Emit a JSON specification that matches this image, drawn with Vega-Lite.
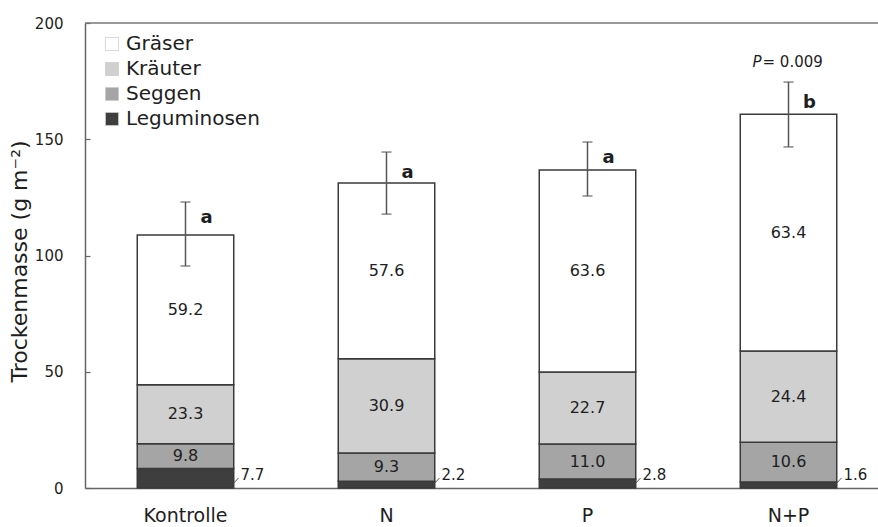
{
  "$schema": "https://vega.github.io/schema/vega-lite/v6.json",
  "width": 793,
  "height": 465,
  "autosize": {"type": "none"},
  "padding": {"left": 85, "top": 23, "right": 0, "bottom": 39},
  "config": {
    "view": {"stroke": null},
    "font": "DejaVu Sans",
    "text": {"color": "#1e1e1e"}
  },
  "data": {
    "values": [
      {"group": "Kontrolle", "species": "Leguminosen", "ord": 1, "value": 8.38, "pct": "7.7"},
      {"group": "Kontrolle", "species": "Seggen", "ord": 2, "value": 10.66, "pct": "9.8"},
      {"group": "Kontrolle", "species": "Kräuter", "ord": 3, "value": 25.35, "pct": "23.3"},
      {"group": "Kontrolle", "species": "Gräser", "ord": 4, "value": 64.41, "pct": "59.2"},
      {"group": "N", "species": "Leguminosen", "ord": 1, "value": 2.89, "pct": "2.2"},
      {"group": "N", "species": "Seggen", "ord": 2, "value": 12.2, "pct": "9.3"},
      {"group": "N", "species": "Kräuter", "ord": 3, "value": 40.54, "pct": "30.9"},
      {"group": "N", "species": "Gräser", "ord": 4, "value": 75.57, "pct": "57.6"},
      {"group": "P", "species": "Leguminosen", "ord": 1, "value": 3.83, "pct": "2.8"},
      {"group": "P", "species": "Seggen", "ord": 2, "value": 15.05, "pct": "11.0"},
      {"group": "P", "species": "Kräuter", "ord": 3, "value": 31.05, "pct": "22.7"},
      {"group": "P", "species": "Gräser", "ord": 4, "value": 86.87, "pct": "63.6"},
      {"group": "N+P", "species": "Leguminosen", "ord": 1, "value": 2.57, "pct": "1.6"},
      {"group": "N+P", "species": "Seggen", "ord": 2, "value": 17.06, "pct": "10.6"},
      {"group": "N+P", "species": "Kräuter", "ord": 3, "value": 39.26, "pct": "24.4"},
      {"group": "N+P", "species": "Gräser", "ord": 4, "value": 101.91, "pct": "63.4"}
    ]
  },
  "datasets": {
    "errs": [
      {"group": "Kontrolle", "lo": 95.5, "hi": 123.0, "letter": "a", "lb": 114.0},
      {"group": "N", "lo": 117.8, "hi": 144.5, "letter": "a", "lb": 133.3},
      {"group": "P", "lo": 125.6, "hi": 148.8, "letter": "a", "lb": 139.6},
      {"group": "N+P", "lo": 146.7, "hi": 174.6, "letter": "b", "lb": 163.4}
    ],
    "pval": [
      {"group": "N+P", "pv": 181.2, "p": "P", "rest": "= 0.009"}
    ]
  },
  "encoding": {
    "x": {
      "field": "group",
      "type": "nominal",
      "sort": ["Kontrolle", "N", "P", "N+P"],
      "scale": {"domain": ["Kontrolle", "N", "P", "N+P"], "range": [0, 804], "paddingInner": 0.52, "paddingOuter": 0.26},
      "axis": {"title": null, "labelAngle": 0, "labelFontSize": 19, "labelColor": "#1e1e1e", "ticks": false, "labelPadding": 18, "domainColor": "#666666", "domainWidth": 1.5}
    }
  },
  "layer": [
    {
      "mark": {"type": "bar", "stroke": "#3a3a3a", "strokeWidth": 1.5},
      "encoding": {
        "y": {
          "field": "value", "type": "quantitative", "stack": "zero",
          "scale": {"domain": [0, 200], "nice": false},
          "title": "Trockenmasse (g m⁻²)",
          "axis": {"values": [0, 50, 100, 150, 200], "grid": false, "labelFontSize": 15, "labelColor": "#1e1e1e", "tickSize": -5, "tickColor": "#666666", "tickWidth": 1.2, "labelPadding": 27, "domainColor": "#666666", "domainWidth": 1.5, "titleFontSize": 22, "titleFontWeight": "normal", "titleColor": "#1e1e1e", "titlePadding": 3, "titleY": 238}
        },
        "color": {
          "field": "species", "type": "nominal",
          "scale": {"domain": ["Gräser", "Kräuter", "Seggen", "Leguminosen"], "range": ["#ffffff", "#d0d0d0", "#a5a5a5", "#3e3e3e"]},
          "legend": {"title": null, "orient": "none", "legendX": 17, "legendY": 11, "labelFontSize": 20, "labelColor": "#1e1e1e", "symbolType": "square", "symbolSize": 170, "rowPadding": 5, "labelOffset": 4, "symbolStrokeWidth": 0.8, "symbolStrokeColor": "#cccccc", "symbolOpacity": 1}
        },
        "order": {"field": "ord", "type": "quantitative"}
      }
    },
    {
      "transform": [
        {"stack": "value", "groupby": ["group"], "sort": [{"field": "ord"}], "as": ["v0", "v1"]},
        {"filter": "datum.species != 'Leguminosen'"},
        {"calculate": "(datum.v0 + datum.v1) / 2", "as": "mid"}
      ],
      "mark": {"type": "text", "fontSize": 16, "baseline": "middle"},
      "encoding": {
        "y": {"field": "mid", "type": "quantitative", "title": "Trockenmasse (g m⁻²)"},
        "text": {"field": "pct"}
      }
    },
    {
      "transform": [{"filter": "datum.species == 'Leguminosen'"}],
      "mark": {"type": "text", "fontSize": 15, "align": "left", "baseline": "middle", "xOffset": 55},
      "encoding": {
        "y": {"datum": 5.6, "title": "Trockenmasse (g m⁻²)"},
        "text": {"field": "pct"}
      }
    },
    {
      "transform": [{"filter": "datum.species == 'Leguminosen'"}],
      "mark": {"type": "rule", "color": "#555555", "strokeWidth": 1, "xOffset": 48, "x2Offset": 53},
      "encoding": {
        "x2": {"field": "group"},
        "y": {"datum": 2.0, "title": "Trockenmasse (g m⁻²)"},
        "y2": {"datum": 4.3}
      }
    },
    {
      "data": {"values": [{}]},
      "mark": {"type": "rule", "color": "#777777", "strokeWidth": 1.5},
      "encoding": {
        "x": null,
        "y": {"datum": 200, "title": "Trockenmasse (g m⁻²)"}
      }
    },
    {
      "data": {"name": "errs"},
      "mark": {"type": "rule", "color": "#555555", "strokeWidth": 1.5},
      "encoding": {
        "y": {"field": "lo", "type": "quantitative", "title": "Trockenmasse (g m⁻²)"},
        "y2": {"field": "hi"}
      }
    },
    {
      "data": {"name": "errs"},
      "mark": {"type": "tick", "color": "#555555", "thickness": 1.5, "size": 10},
      "encoding": {
        "y": {"field": "lo", "type": "quantitative", "title": "Trockenmasse (g m⁻²)"}
      }
    },
    {
      "data": {"name": "errs"},
      "mark": {"type": "tick", "color": "#555555", "thickness": 1.5, "size": 10},
      "encoding": {
        "y": {"field": "hi", "type": "quantitative", "title": "Trockenmasse (g m⁻²)"}
      }
    },
    {
      "data": {"name": "errs"},
      "mark": {"type": "text", "fontSize": 18, "fontWeight": "bold", "baseline": "alphabetic", "xOffset": 21},
      "encoding": {
        "y": {"field": "lb", "type": "quantitative", "title": "Trockenmasse (g m⁻²)"},
        "text": {"field": "letter"}
      }
    },
    {
      "data": {"name": "pval"},
      "mark": {"type": "text", "fontSize": 15, "fontStyle": "italic", "align": "right", "baseline": "alphabetic", "xOffset": -27},
      "encoding": {
        "y": {"field": "pv", "type": "quantitative", "title": "Trockenmasse (g m⁻²)"},
        "text": {"field": "p"}
      }
    },
    {
      "data": {"name": "pval"},
      "mark": {"type": "text", "fontSize": 15, "align": "left", "baseline": "alphabetic", "xOffset": -26},
      "encoding": {
        "y": {"field": "pv", "type": "quantitative", "title": "Trockenmasse (g m⁻²)"},
        "text": {"field": "rest"}
      }
    }
  ]
}
